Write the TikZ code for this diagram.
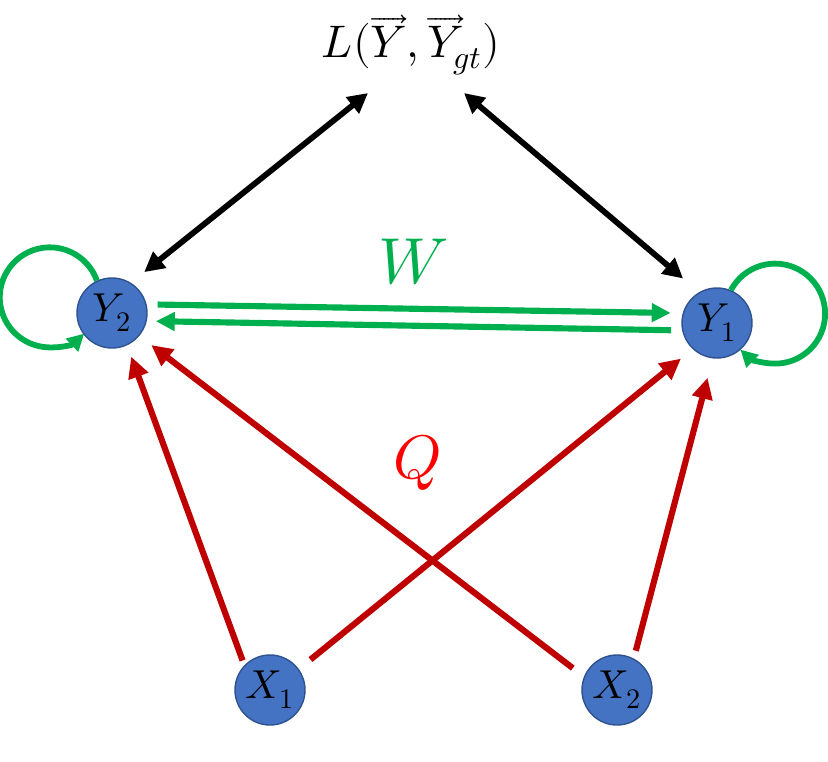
\documentclass[tikz,border=0pt]{standalone}
\usepackage{amsmath}
\usepackage{unicode-math}
\usepackage{tikz}
\usetikzlibrary{arrows.meta}
\definecolor{myred}{rgb}{0.75,0,0}
\definecolor{mybrightred}{rgb}{1,0,0}
\definecolor{mygreen}{rgb}{0,0.69,0.31}
\definecolor{mynodeblue}{rgb}{0.27,0.45,0.77}
\definecolor{mynodeedge}{rgb}{0.18,0.32,0.56}

\begin{document}
\begin{tikzpicture}[x=0.02cm,y=-0.02cm,
  neuron/.style={circle,fill=mynodeblue,draw=mynodeedge,line width=0.8pt,
    minimum size=1.4cm,inner sep=0pt,font=\fontsize{23}{25}\selectfont},
  lossarrow/.style={line width=3.3pt,
    {Triangle[length=0.4cm,width=0.4cm]}-{Triangle[length=0.4cm,width=0.4cm]}},
  warrow/.style={mygreen,line width=3.5pt,-{Triangle[length=0.38cm,width=0.36cm]}},
  wloop/.style={mygreen,line width=3.3pt,-{Triangle[length=0.34cm,width=0.34cm]}},
  qarrow/.style={myred,line width=3.5pt,-{Triangle[length=0.42cm,width=0.4cm]}}]
  \useasboundingbox (0,0) rectangle (828,761);
  % nodes
  \node[neuron] (Y2) at (112,313) {$Y_2$};
  \node[neuron] (Y1) at (717,323) {$Y_1$};
  \node[neuron] (X1) at (270,690) {$X_1$};
  \node[neuron] (X2) at (617,690) {$X_2$};
  \node[inner sep=0pt,font=\fontsize{26}{28}\selectfont] (loss) at (411,45)
    {$L(\overrightarrow{Y},\overrightarrow{Y}_{gt})$};
  \node[font=\fontsize{37}{40}\selectfont,text=mygreen] (wlabel) at (413,262) {$W$};
  \node[font=\fontsize{35}{38}\selectfont,text=mybrightred] (qlabel) at (418,463) {$Q$};
  % loss
  \draw[lossarrow,shorten >=0.34cm] ([shift={(-43,48)}]loss.center) -- (Y2.58);
  \draw[lossarrow,shorten >=0.42cm] ([shift={(53,48)}]loss.center) -- (Y1.120);
  % recurrent weights
  \draw[warrow,shorten <=0.22cm,shorten >=0.24cm] (Y2.14) -- (Y1.164);
  \draw[warrow,shorten <=0.22cm,shorten >=0.18cm] (Y1.192) -- (Y2.347);
  \draw[wloop] (Y2.115) arc[start angle=-19.5,end angle=-313.6,radius=50];
  \draw[wloop] (Y1.67) arc[start angle=208,end angle=494,radius=50];
  % input weights
  \draw[qarrow,shorten <=0.1cm,shorten >=0.24cm]  (X1.136) -- (Y2.295);
  \draw[qarrow,shorten <=0.3cm,shorten >=0.3cm]   (X1.36)  -- (Y1.227);
  \draw[qarrow,shorten <=0.16cm,shorten >=0.4cm]  (X2.62)  -- (Y1.263);
  \draw[qarrow,shorten <=0.28cm,shorten >=0.3cm]  (X2.158) -- (Y2.320);
\end{tikzpicture}
\end{document}
